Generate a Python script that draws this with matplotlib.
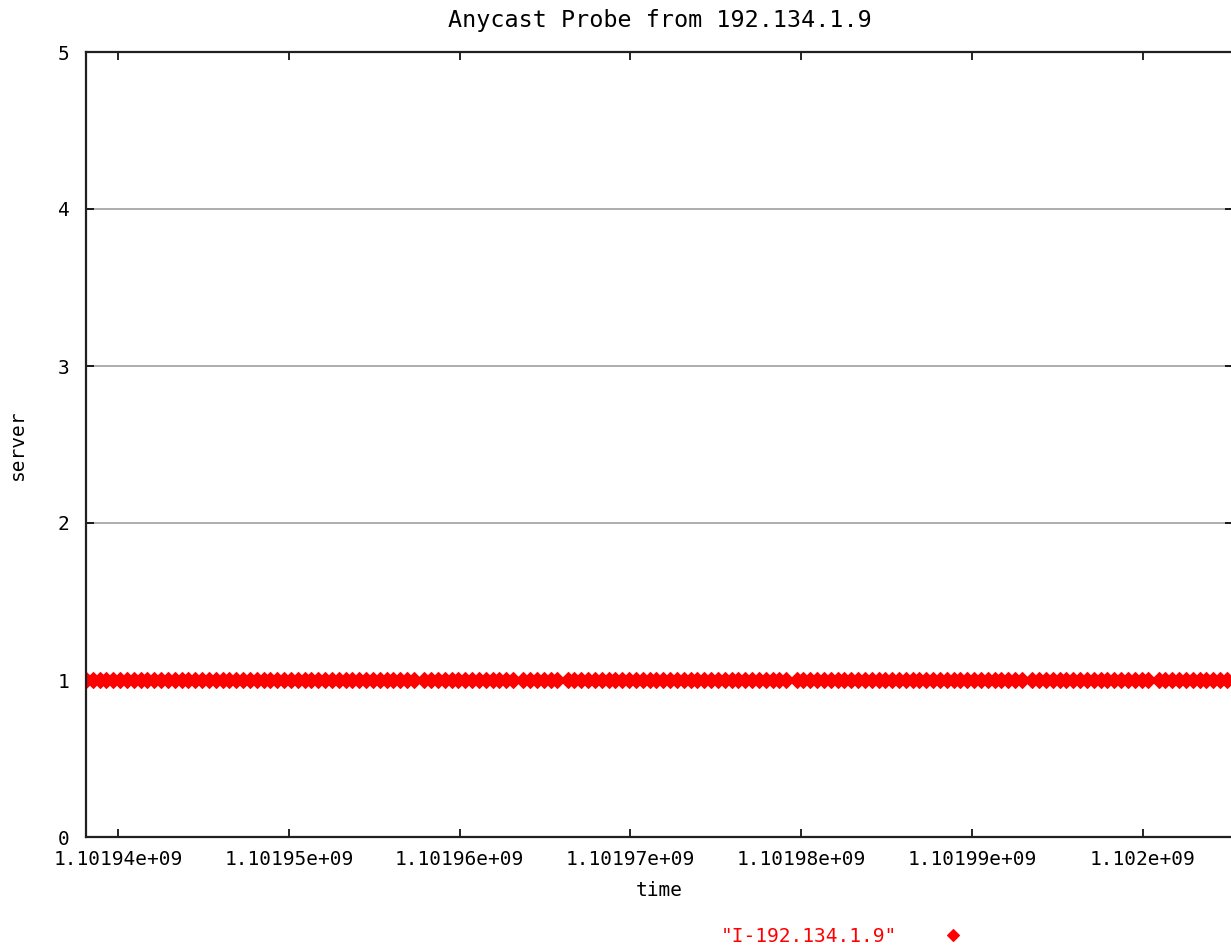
import numpy as np
import matplotlib
matplotlib.use('Agg')
import matplotlib.pyplot as plt
from matplotlib.ticker import FixedLocator, FuncFormatter

# probe start time (unix seconds) and offsets of each probe
t_start = 1101938126
probe_offsets = [
    0, 400, 800, 1200, 1600, 2000, 2400, 2800, 3200, 3600, 4000, 4400, 4800,
    5200, 5600, 6000, 6400, 6800, 7200, 7600, 8000, 8400, 8800, 9200, 9600,
    10000, 10400, 10800, 11200, 11600, 12000, 12400, 12800, 13200, 13600,
    14000, 14400, 14800, 15200, 15600, 16000, 16400, 16800, 17200, 17600,
    18000, 18400, 18800, 19200,
    19800, 20200, 20600, 21000, 21400, 21800, 22200, 22600, 23000, 23400,
    23800, 24200, 24600, 25000,
    25600, 26000, 26400, 26800, 27200, 27600,
    28200, 28600, 29000, 29400, 29800, 30200, 30600, 31000, 31400, 31800,
    32200, 32600, 33000, 33400, 33800, 34200, 34600, 35000, 35400, 35800,
    36200, 36600, 37000, 37400, 37800, 38200, 38600, 39000, 39400, 39800,
    40200, 40600, 41000,
    41600, 42000, 42400, 42800, 43200, 43600, 44000, 44400, 44800, 45200,
    45600, 46000, 46400, 46800, 47200, 47600, 48000, 48400, 48800, 49200,
    49600, 50000, 50400, 50800, 51200, 51600, 52000, 52400, 52800, 53200,
    53600, 54000, 54400, 54800,
    55400, 55800, 56200, 56600, 57000, 57400, 57800, 58200, 58600, 59000,
    59400, 59800, 60200, 60600, 61000, 61400, 61800, 62200,
    62800, 63200, 63600, 64000, 64400, 64800, 65200, 65600, 66000, 66400,
    66800, 67200,
]
# every probe answered by server 1
server_id = 1

x_ticks = [1.10194e9, 1.10195e9, 1.10196e9, 1.10197e9, 1.10198e9, 1.10199e9, 1.102e9]
y_ticks = [0, 1, 2, 3, 4, 5]
series_label = '"I-192.134.1.9"'

times = t_start + np.array(probe_offsets)
servers = np.full(len(times), server_id)

plt.rcParams['font.family'] = ['DejaVu Sans Mono']
plt.rcParams['font.size'] = 14

fig = plt.figure(figsize=(12.31, 9.47), dpi=100)
ax = fig.add_axes([86 / 1231, 110 / 947, (1233 - 86) / 1231, (895 - 110) / 947])

ax.plot(times, servers, linestyle='none', marker='D', markersize=8.5,
        color='red', markeredgecolor='red', markeredgewidth=0.8,
        label=series_label, clip_on=True)

ax.set_xlim(1101938126, 1102005281)
ax.set_ylim(0, 5)
ax.xaxis.set_major_locator(FixedLocator(x_ticks))
ax.xaxis.set_major_formatter(FuncFormatter(lambda v, p: '%g' % v))
ax.yaxis.set_major_locator(FixedLocator(y_ticks))

for y in y_ticks[2:5]:
    ax.axhline(y, color='#a0a0a0', lw=1.2, zorder=0)

for s in ax.spines.values():
    s.set_linewidth(1.6)
    s.set_color('#202020')
ax.tick_params(direction='in', length=6, width=1.2, top=True, right=True,
               colors='black')
ax.tick_params(axis='x', pad=9)
ax.tick_params(axis='y', pad=12)

ax.set_title('Anycast Probe from 192.134.1.9', pad=18)
ax.set_xlabel('time', labelpad=9)
ax.set_ylabel('server', labelpad=22)

ax.legend(loc='center', bbox_to_anchor=(842 / 1231, 1 - 936 / 947),
          bbox_transform=fig.transFigure, markerfirst=False, frameon=False,
          handlelength=1.0, handletextpad=2.4, labelcolor='red', numpoints=1,
          markerscale=0.7)

plt.savefig('out.png', dpi=100)
